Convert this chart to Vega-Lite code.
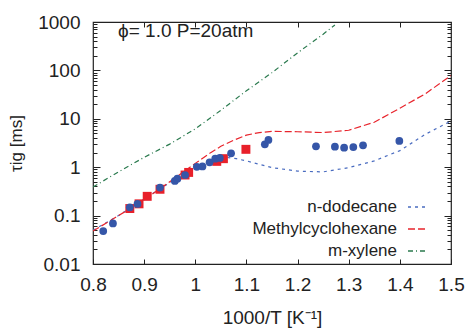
{
  "$schema": "https://vega.github.io/schema/vega-lite/v6.json",
  "autosize": {"type": "none"},
  "width": 358,
  "height": 242,
  "padding": {"left": 93, "top": 22, "right": 20, "bottom": 67},
  "background": "white",
  "config": {
    "view": {"stroke": "#222222", "strokeWidth": 1.2},
    "font": "Liberation Sans",
    "axis": {"domain": false, "grid": false, "tickColor": "#222222", "labelColor": "#222222", "titleColor": "#222222", "labelFont": "Liberation Sans", "titleFont": "Liberation Sans", "titleFontWeight": "normal"}
  },
  "datasets": {
    "models": [
      {"s": "n-dodecane", "x": 0.8, "y": 0.05},
      {"s": "n-dodecane", "x": 0.85, "y": 0.1},
      {"s": "n-dodecane", "x": 0.9, "y": 0.22},
      {"s": "n-dodecane", "x": 0.95, "y": 0.48},
      {"s": "n-dodecane", "x": 1.0, "y": 1.0},
      {"s": "n-dodecane", "x": 1.03, "y": 1.4},
      {"s": "n-dodecane", "x": 1.06, "y": 1.6},
      {"s": "n-dodecane", "x": 1.08, "y": 1.5},
      {"s": "n-dodecane", "x": 1.1, "y": 1.35},
      {"s": "n-dodecane", "x": 1.15, "y": 0.98},
      {"s": "n-dodecane", "x": 1.2, "y": 0.83},
      {"s": "n-dodecane", "x": 1.25, "y": 0.8},
      {"s": "n-dodecane", "x": 1.3, "y": 0.98},
      {"s": "n-dodecane", "x": 1.35, "y": 1.35},
      {"s": "n-dodecane", "x": 1.4, "y": 2.2},
      {"s": "n-dodecane", "x": 1.45, "y": 4.8},
      {"s": "n-dodecane", "x": 1.5, "y": 9.0},
      {"s": "Methylcyclohexane", "x": 0.8, "y": 0.048},
      {"s": "Methylcyclohexane", "x": 0.85, "y": 0.1},
      {"s": "Methylcyclohexane", "x": 0.9, "y": 0.21},
      {"s": "Methylcyclohexane", "x": 0.95, "y": 0.5},
      {"s": "Methylcyclohexane", "x": 1.0, "y": 1.2},
      {"s": "Methylcyclohexane", "x": 1.03, "y": 2.0},
      {"s": "Methylcyclohexane", "x": 1.05, "y": 2.7},
      {"s": "Methylcyclohexane", "x": 1.075, "y": 3.6},
      {"s": "Methylcyclohexane", "x": 1.1, "y": 4.6},
      {"s": "Methylcyclohexane", "x": 1.125, "y": 5.2},
      {"s": "Methylcyclohexane", "x": 1.15, "y": 5.5},
      {"s": "Methylcyclohexane", "x": 1.2, "y": 5.4},
      {"s": "Methylcyclohexane", "x": 1.25, "y": 5.2},
      {"s": "Methylcyclohexane", "x": 1.3, "y": 5.8},
      {"s": "Methylcyclohexane", "x": 1.35, "y": 8.5},
      {"s": "Methylcyclohexane", "x": 1.4, "y": 16.5},
      {"s": "Methylcyclohexane", "x": 1.45, "y": 33},
      {"s": "Methylcyclohexane", "x": 1.5, "y": 78},
      {"s": "m-xylene", "x": 0.8, "y": 0.39},
      {"s": "m-xylene", "x": 0.85, "y": 0.8},
      {"s": "m-xylene", "x": 0.9, "y": 1.6},
      {"s": "m-xylene", "x": 0.95, "y": 3.0},
      {"s": "m-xylene", "x": 1.0, "y": 6.2},
      {"s": "m-xylene", "x": 1.05, "y": 15},
      {"s": "m-xylene", "x": 1.1, "y": 38},
      {"s": "m-xylene", "x": 1.15, "y": 90},
      {"s": "m-xylene", "x": 1.2, "y": 230},
      {"s": "m-xylene", "x": 1.25, "y": 560},
      {"s": "m-xylene", "x": 1.273, "y": 870}
    ],
    "squares": [
      {"x": 0.872, "y": 0.14},
      {"x": 0.89, "y": 0.175},
      {"x": 0.906, "y": 0.25},
      {"x": 0.931, "y": 0.35},
      {"x": 0.98, "y": 0.69},
      {"x": 0.987, "y": 0.78},
      {"x": 1.042, "y": 1.32},
      {"x": 1.055, "y": 1.5},
      {"x": 1.099, "y": 2.34}
    ],
    "circles": [
      {"x": 0.82, "y": 0.048},
      {"x": 0.839, "y": 0.069},
      {"x": 0.872, "y": 0.148},
      {"x": 0.887, "y": 0.174},
      {"x": 0.931, "y": 0.38},
      {"x": 0.96, "y": 0.52},
      {"x": 0.965, "y": 0.58},
      {"x": 0.98, "y": 0.69},
      {"x": 1.003, "y": 1.02},
      {"x": 1.014, "y": 1.04},
      {"x": 1.028, "y": 1.26},
      {"x": 1.039, "y": 1.5},
      {"x": 1.048, "y": 1.55},
      {"x": 1.07, "y": 1.94},
      {"x": 1.136, "y": 2.97},
      {"x": 1.143, "y": 3.65},
      {"x": 1.236, "y": 2.7},
      {"x": 1.273, "y": 2.65},
      {"x": 1.291, "y": 2.53},
      {"x": 1.309, "y": 2.6},
      {"x": 1.328, "y": 2.83},
      {"x": 1.399, "y": 3.48}
    ]
  },
  "resolve": {"axis": {"x": "independent", "y": "independent"}},
  "layer": [
    {
      "data": {"name": "models"},
      "mark": {"type": "line", "strokeWidth": 1.2, "clip": true},
      "encoding": {
        "x": {"field": "x", "type": "quantitative",
          "scale": {"domain": [0.8, 1.5], "nice": false, "zero": false},
          "axis": {"orient": "bottom", "values": [0.8, 0.9, 1, 1.1, 1.2, 1.3, 1.4, 1.5], "format": "~g", "tickSize": -5, "labelPadding": 16, "labelFontSize": 19, "labelFlush": false, "title": "1000/T [K⁻¹]", "titleFontSize": 19, "titlePadding": 14}},
        "y": {"field": "y", "type": "quantitative",
          "scale": {"type": "log", "domain": [0.01, 1000], "nice": false},
          "axis": {"orient": "left", "values": [0.01, 0.1, 1, 10, 100, 1000], "format": "~g", "tickSize": -7, "labelPadding": 20, "labelFontSize": 19, "labelFlush": false, "title": "τig [ms]", "titleFontSize": 17, "titlePadding": 12}},
        "color": {"field": "s", "type": "nominal",
          "scale": {"domain": ["n-dodecane", "Methylcyclohexane", "m-xylene"], "range": ["#4a6cc0", "#e8242c", "#2a7a4e"]},
          "legend": {"orient": "none", "legendX": 314, "legendY": 175, "title": null, "symbolType": "stroke", "symbolSize": 324, "symbolStrokeWidth": 1.5, "labelAlign": "right", "labelOffset": -30, "labelFontSize": 17, "labelFont": "Liberation Sans", "labelColor": "#222222", "rowPadding": 4, "padding": 0}},
        "strokeDash": {"field": "s", "type": "nominal",
          "scale": {"domain": ["n-dodecane", "Methylcyclohexane", "m-xylene"], "range": [[3, 4], [7, 3], [5, 3, 1, 3]]},
          "legend": {"orient": "none", "legendX": 314, "legendY": 175, "title": null, "symbolType": "stroke", "symbolSize": 324, "symbolStrokeWidth": 1.5, "labelAlign": "right", "labelOffset": -30, "labelFontSize": 17, "labelFont": "Liberation Sans", "labelColor": "#222222", "rowPadding": 4, "padding": 0}}
      }
    },
    {
      "data": {"name": "squares"},
      "mark": {"type": "square", "filled": true, "color": "#e8202a", "size": 80, "opacity": 1},
      "encoding": {
        "x": {"field": "x", "type": "quantitative",
          "scale": {"domain": [0.8, 1.5], "nice": false, "zero": false},
          "axis": {"orient": "top", "values": [0.9, 1, 1.1, 1.2, 1.3, 1.4], "tickSize": -5, "labels": false, "title": null}},
        "y": {"field": "y", "type": "quantitative",
          "scale": {"type": "log", "domain": [0.01, 1000], "nice": false},
          "axis": {"orient": "left", "values": [0.02, 0.03, 0.04, 0.05, 0.06, 0.07, 0.08, 0.09, 0.2, 0.3, 0.4, 0.5, 0.6, 0.7, 0.8, 0.9, 2, 3, 4, 5, 6, 7, 8, 9, 20, 30, 40, 50, 60, 70, 80, 90, 200, 300, 400, 500, 600, 700, 800, 900], "tickSize": -4, "labels": false, "title": null}}
      }
    },
    {
      "data": {"name": "circles"},
      "mark": {"type": "circle", "color": "#3556a8", "size": 60, "opacity": 1},
      "encoding": {
        "x": {"field": "x", "type": "quantitative",
          "scale": {"domain": [0.8, 1.5], "nice": false, "zero": false}, "axis": null},
        "y": {"field": "y", "type": "quantitative",
          "scale": {"type": "log", "domain": [0.01, 1000], "nice": false},
          "axis": {"orient": "right", "values": [0.01, 0.1, 1, 10, 100, 1000], "tickSize": -7, "labels": false, "title": null}}
      }
    },
    {
      "data": {"values": [{"t": "ϕ= 1.0 P=20atm"}]},
      "mark": {"type": "text", "align": "left", "baseline": "middle", "fontSize": 19, "font": "Liberation Sans", "color": "#222222"},
      "encoding": {
        "text": {"field": "t"},
        "x": {"datum": 0.849, "type": "quantitative",
          "scale": {"domain": [0.8, 1.5], "nice": false, "zero": false}, "axis": null},
        "y": {"datum": 650, "type": "quantitative",
          "scale": {"type": "log", "domain": [0.01, 1000], "nice": false},
          "axis": {"orient": "right", "values": [0.02, 0.03, 0.04, 0.05, 0.06, 0.07, 0.08, 0.09, 0.2, 0.3, 0.4, 0.5, 0.6, 0.7, 0.8, 0.9, 2, 3, 4, 5, 6, 7, 8, 9, 20, 30, 40, 50, 60, 70, 80, 90, 200, 300, 400, 500, 600, 700, 800, 900], "tickSize": -4, "labels": false, "title": null}}
      }
    }
  ]
}
